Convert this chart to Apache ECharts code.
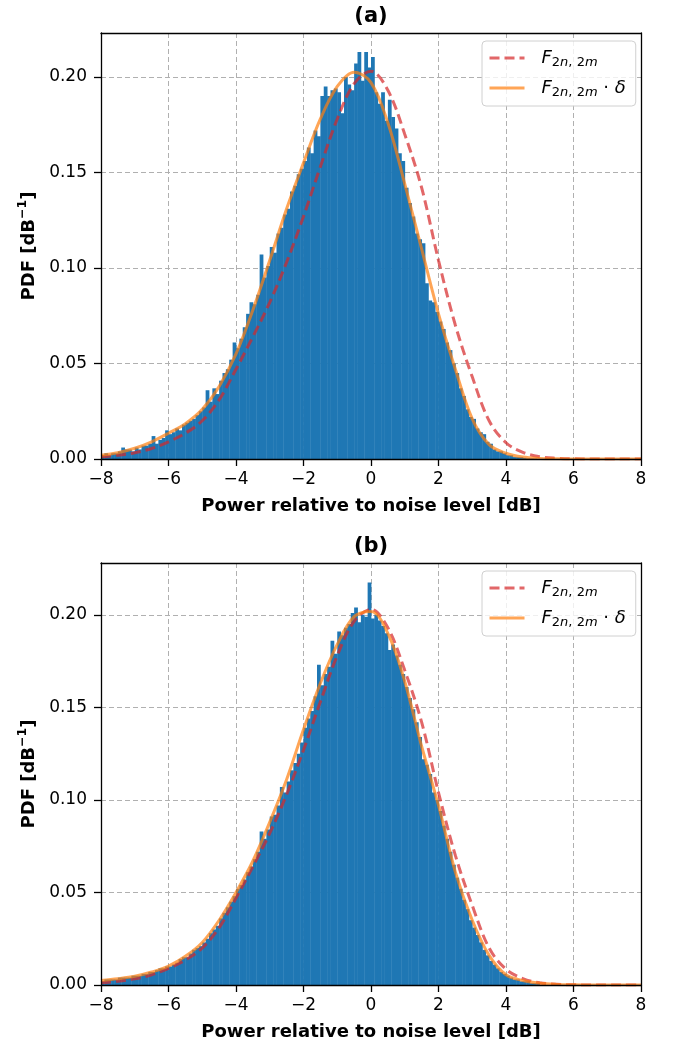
<!DOCTYPE html>
<html>
<head>
<meta charset="utf-8">
<script src="https://cdn.jsdelivr.net/npm/echarts@6/dist/echarts.min.js"></script>
<style>
html,body{margin:0;padding:0;background:#fff;}
#chart{width:676px;height:1042px;}
</style>
</head>
<body>
<div id="chart"></div>
<script>
// ---- Data ----
const panelTitles = ['(a)', '(b)'];
const xLabel = 'Power relative to noise level [dB]';
const xTicks = [-8, -6, -4, -2, 0, 2, 4, 6, 8];
const yTicks = [0.00, 0.05, 0.10, 0.15, 0.20];

// curve sample positions (dB)
const curveX = [-8, -7.5, -7, -6.5, -6, -5.5, -5, -4.5, -4, -3.5, -3, -2.5, -2, -1.5, -1, -0.5,
  0, 0.5, 1, 1.5, 2, 2.5, 3, 3.5, 4, 4.5, 5, 5.5, 6, 6.5, 7, 7.5, 8];

// F_{2n,2m} (red dashed), same in both panels
const fCurve = [0.0012, 0.0020, 0.0033, 0.0055, 0.0090, 0.0135, 0.0200, 0.0310, 0.0470, 0.0640,
  0.0820, 0.1030, 0.1270, 0.1530, 0.1780, 0.1965, 0.2030, 0.1930, 0.1700, 0.1420, 0.1040,
  0.0700, 0.0430, 0.0200, 0.0085, 0.0035, 0.0012, 0.0004, 0.0001, 0, 0, 0, 0];

// F_{2n,2m}·δ (orange), panel a
const fDeltaA = [0.0020, 0.0033, 0.0056, 0.0090, 0.0135, 0.0185, 0.0260, 0.0380, 0.0550, 0.0780,
  0.1040, 0.1310, 0.1550, 0.1780, 0.1950, 0.2025, 0.1970, 0.1760, 0.1440, 0.1100, 0.0760,
  0.0470, 0.0210, 0.0075, 0.0030, 0.0010, 0.0003, 0.0001, 0, 0, 0, 0, 0];

// F_{2n,2m}·δ (orange), panel b
const fDeltaB = [0.0025, 0.0034, 0.0047, 0.0070, 0.0102, 0.0155, 0.0230, 0.0350, 0.0500, 0.0670,
  0.0880, 0.1110, 0.1380, 0.1630, 0.1840, 0.1990, 0.2018, 0.1900, 0.1640, 0.1290, 0.0970,
  0.0610, 0.0350, 0.0160, 0.0055, 0.0024, 0.0009, 0.0003, 0.0001, 0, 0, 0, 0];

// histogram bins: 0.1 dB wide starting at -8 dB
const histStart = -8;
const histBinWidth = 0.1;
const histA = [
  0.002, 0.003, 0.002, 0.003, 0.003, 0.004, 0.006, 0.005, 0.005, 0.004,
  0.006, 0.005, 0.007, 0.007, 0.008, 0.012, 0.008, 0.010, 0.011, 0.015,
  0.013, 0.014, 0.016, 0.015, 0.018, 0.019, 0.020, 0.021, 0.023, 0.025,
  0.027, 0.036, 0.030, 0.037, 0.034, 0.041, 0.045, 0.047, 0.052, 0.061,
  0.058, 0.063, 0.069, 0.076, 0.082, 0.081, 0.086, 0.107, 0.095, 0.101,
  0.111, 0.108, 0.118, 0.121, 0.128, 0.131, 0.140, 0.143, 0.149, 0.152,
  0.156, 0.163, 0.160, 0.172, 0.169, 0.190, 0.195, 0.190, 0.193, 0.194,
  0.192, 0.181, 0.200, 0.196, 0.193, 0.207, 0.213, 0.198, 0.213, 0.205,
  0.2105, 0.192, 0.186, 0.192, 0.177, 0.188, 0.179, 0.173, 0.160, 0.156,
  0.142, 0.134, 0.127, 0.118, 0.115, 0.113, 0.092, 0.083, 0.082, 0.077,
  0.072, 0.068, 0.061, 0.057, 0.050, 0.045, 0.037, 0.033, 0.026, 0.022,
  0.021, 0.016, 0.014, 0.013, 0.009, 0.008, 0.005, 0.004, 0.004, 0.003,
  0.002, 0.002, 0.001, 0.001, 0.001, 0.0006, 0.0004, 0.0003, 0.0002, 0.0001
];
const histB = [
  0.002, 0.003, 0.003, 0.003, 0.003, 0.004, 0.004, 0.004, 0.004, 0.005,
  0.005, 0.005, 0.006, 0.006, 0.007, 0.007, 0.008, 0.009, 0.009, 0.010,
  0.010, 0.011, 0.012, 0.014, 0.015, 0.015, 0.017, 0.019, 0.020, 0.021,
  0.023, 0.025, 0.028, 0.030, 0.032, 0.036, 0.039, 0.042, 0.045, 0.048,
  0.052, 0.054, 0.057, 0.061, 0.064, 0.068, 0.072, 0.083, 0.079, 0.084,
  0.091, 0.092, 0.097, 0.107, 0.104, 0.110, 0.116, 0.120, 0.125, 0.131,
  0.139, 0.144, 0.148, 0.156, 0.173, 0.162, 0.168, 0.172, 0.186, 0.179,
  0.191, 0.189, 0.193, 0.195, 0.201, 0.204, 0.196, 0.200, 0.199, 0.2175,
  0.198, 0.200, 0.197, 0.194, 0.190, 0.181, 0.184, 0.178, 0.173, 0.168,
  0.161, 0.155, 0.149, 0.142, 0.134, 0.122, 0.119, 0.114, 0.104, 0.100,
  0.094, 0.086, 0.079, 0.072, 0.065, 0.058, 0.052, 0.046, 0.041, 0.035,
  0.031, 0.027, 0.023, 0.019, 0.016, 0.013, 0.011, 0.009, 0.007, 0.006,
  0.005, 0.004, 0.003, 0.003, 0.002, 0.002, 0.002, 0.001, 0.001, 0.001
];
const yMaxA = 0.223;
const yMaxB = 0.228;

// ---- Chart ----
const FONT = 'DejaVu Sans';
const chart = echarts.init(document.getElementById('chart'), null, {renderer: 'canvas'});

const grids = [
  {left: 101, top: 33, width: 540, height: 426},
  {left: 101, top: 563, width: 540, height: 425}
];
const yMaxes = [yMaxA, yMaxB];
const hists = [histA, histB];
const deltas = [fDeltaA, fDeltaB];
const RED = '#d62728', ORANGE = '#ff7f0e';

function minusFmt(v) {
  return v < 0 ? '\u2212' + (-v) : String(v);
}

const xAxes = [], yAxes = [], series = [], titles = [], legends = [];
grids.forEach((g, gi) => {
  const base = gi * 3;
  xAxes.push({
    gridIndex: gi, type: 'value', position: 'bottom', min: xTicks[0], max: xTicks[xTicks.length - 1],
    interval: xTicks[1] - xTicks[0],
    axisLine: {show: false, onZero: false}, axisTick: {show: false},
    axisLabel: {margin: 12, fontFamily: FONT, fontSize: 17, color: '#000', formatter: minusFmt},
    splitLine: {show: true, lineStyle: {color: '#b0b0b0', width: 1, type: [5, 3]}},
    name: xLabel, nameLocation: 'middle', nameGap: 38,
    nameTextStyle: {fontFamily: FONT, fontSize: 18, fontWeight: 'bold', color: '#000'}
  });
  xAxes.push({
    gridIndex: gi, type: 'value', position: 'bottom', min: xTicks[0], max: xTicks[xTicks.length - 1],
    interval: xTicks[1] - xTicks[0], z: 10,
    axisLine: {show: true, onZero: false, lineStyle: {color: '#000', width: 1.3}},
    axisTick: {show: true, length: 7, lineStyle: {color: '#000', width: 1.3}},
    axisLabel: {show: false}, splitLine: {show: false}
  });
  xAxes.push({
    gridIndex: gi, type: 'value', position: 'top', min: xTicks[0], max: xTicks[xTicks.length - 1], z: 10,
    axisLine: {show: true, onZero: false, lineStyle: {color: '#000', width: 1.3}},
    axisTick: {show: false}, axisLabel: {show: false}, splitLine: {show: false}
  });
  yAxes.push({
    gridIndex: gi, type: 'value', position: 'left', min: 0, max: yMaxes[gi], interval: 0.05,
    axisLine: {show: false, onZero: false}, axisTick: {show: false},
    axisLabel: {margin: 14, fontFamily: FONT, fontSize: 17, color: '#000', showMaxLabel: false,
      formatter: v => yTicks.some(t => Math.abs(t - v) < 1e-9) ? v.toFixed(2) : ''},
    splitLine: {show: true, lineStyle: {color: '#b0b0b0', width: 1, type: [5, 3]}},
    name: '{b|PDF [dB}{sup|\u22121}{b|]}', nameLocation: 'middle', nameGap: 62,
    nameTextStyle: {
      color: '#000',
      rich: {
        b: {fontFamily: FONT, fontSize: 18, fontWeight: 'bold', color: '#000', lineHeight: 22, verticalAlign: 'bottom'},
        sup: {fontFamily: FONT, fontSize: 12.5, fontWeight: 'bold', color: '#000', lineHeight: 22, verticalAlign: 'top'}
      }
    }
  });
  yAxes.push({
    gridIndex: gi, type: 'value', position: 'left', min: 0, max: yMaxes[gi], interval: 0.05, z: 10,
    axisLine: {show: true, onZero: false, lineStyle: {color: '#000', width: 1.3}},
    axisTick: {show: true, length: 7, lineStyle: {color: '#000', width: 1.3},
      customValues: yTicks},
    axisLabel: {show: false}, splitLine: {show: false}
  });
  yAxes.push({
    gridIndex: gi, type: 'value', position: 'right', min: 0, max: yMaxes[gi], z: 10,
    axisLine: {show: true, onZero: false, lineStyle: {color: '#000', width: 1.3}},
    axisTick: {show: false}, axisLabel: {show: false}, splitLine: {show: false}
  });

  const histData = hists[gi].map((v, i) => {
    const x0 = histStart + i * histBinWidth;
    return [x0, x0 + histBinWidth, v];
  });
  series.push({
    type: 'custom', name: 'hist' + gi, xAxisIndex: base, yAxisIndex: base, z: 2, clip: true,
    data: histData, encode: {x: [0, 1], y: 2},
    renderItem: (params, api) => {
      const p0 = api.coord([api.value(0), api.value(2)]);
      const p1 = api.coord([api.value(1), 0]);
      return {type: 'rect', shape: {x: p0[0], y: p0[1], width: p1[0] - p0[0] + 0.4, height: p1[1] - p0[1]},
        style: {fill: '#1f77b4'}};
    }
  });
  series.push({
    type: 'line', name: 'F', xAxisIndex: base, yAxisIndex: base, z: 3,
    data: curveX.map((x, i) => [x, fCurve[i]]), smooth: 0.35, symbol: 'none', showSymbol: false,
    lineStyle: {color: RED, width: 3, type: [10, 5], opacity: 0.7},
    itemStyle: {color: RED, opacity: 0.7}
  });
  series.push({
    type: 'line', name: 'Fd', xAxisIndex: base, yAxisIndex: base, z: 4,
    data: curveX.map((x, i) => [x, deltas[gi][i]]), smooth: 0.35, symbol: 'none', showSymbol: false,
    lineStyle: {color: ORANGE, width: 3, opacity: 0.7},
    itemStyle: {color: ORANGE, opacity: 0.7}
  });

  titles.push({
    text: panelTitles[gi], left: 371, top: g.top - 27, textAlign: 'center', padding: 0,
    textStyle: {fontFamily: FONT, fontSize: 21, fontWeight: 'bold', color: '#000'}
  });
  legends.push({
    data: [
      {name: 'F', itemStyle: {opacity: 0}, lineStyle: {color: RED, width: 3, type: [10, 5], opacity: 0.7}},
      {name: 'Fd', itemStyle: {opacity: 0}, lineStyle: {color: ORANGE, width: 3, type: 'solid', opacity: 0.7}}
    ],
    orient: 'vertical', left: 482, top: g.top + 8,
    itemWidth: 35, itemHeight: 14, itemGap: 10, padding: [8, 10, 7, 6],
    backgroundColor: 'rgba(255,255,255,0.8)', borderColor: '#d0d0d0', borderWidth: 1, borderRadius: 4,
    selectedMode: false,
    formatter: name => name === 'F'
      ? '{f|F}{s|2}{si|n}{s|, 2}{si|m}'
      : '{f|F}{s|2}{si|n}{s|, 2}{si|m}{o| \u00b7 }{f|\u03b4}',
    textStyle: {
      color: '#000', padding: [0, 0, 0, 12],
      rich: {
        f: {fontFamily: FONT, fontStyle: 'italic', fontSize: 18, lineHeight: 22, color: '#000'},
        s: {fontFamily: FONT, fontSize: 13, lineHeight: 13, verticalAlign: 'bottom', color: '#000'},
        si: {fontFamily: FONT, fontStyle: 'italic', fontSize: 13, lineHeight: 13, verticalAlign: 'bottom', color: '#000'},
        o: {fontFamily: FONT, fontSize: 18, lineHeight: 22, color: '#000'}
      }
    }
  });
});

chart.setOption({
  animation: false,
  backgroundColor: '#fff',
  title: titles,
  legend: legends,
  grid: grids.map(g => Object.assign({containLabel: false}, g)),
  xAxis: xAxes,
  yAxis: yAxes,
  series: series
});
</script>
</body>
</html>
